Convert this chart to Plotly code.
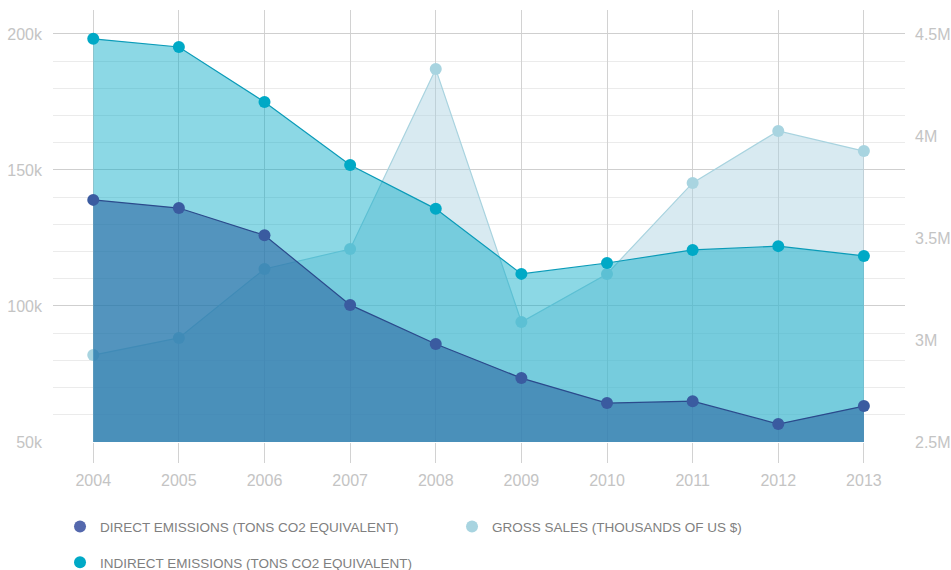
import plotly.graph_objects as go

years = [2004, 2005, 2006, 2007, 2008, 2009, 2010, 2011, 2012, 2013]
direct = [139000, 136000, 126000, 100400, 86000, 73500, 64300, 65000, 56600, 63200]
indirect = [198200, 195200, 175000, 151800, 135700, 111800, 115800, 120600, 122000, 118400]
gross_sales = [2926000, 3010000, 3348000, 3446000, 4328000, 3088000, 3324000, 3770000, 4025000, 3926000]

left_ticks = [50000, 100000, 150000, 200000]
left_labels = ['50k', '100k', '150k', '200k']
right_ticks = [2500000, 3000000, 3500000, 4000000, 4500000]
right_labels = ['2.5M', '3M', '3.5M', '4M', '4.5M']

names = ['DIRECT EMISSIONS (TONS CO2 EQUIVALENT)',
         'GROSS SALES (THOUSANDS OF US $)',
         'INDIRECT EMISSIONS (TONS CO2 EQUIVALENT)']

c_direct = '#5468ad'
c_gross = '#a8d4e0'
c_indirect = '#00a9c6'

fig = go.Figure()

# gross sales sits underneath on the main (right-hand) axis
fig.add_trace(go.Scatter(x=years, y=gross_sales, yaxis='y', mode='lines+markers',
                         fill='tozeroy', fillcolor='rgba(168,208,224,0.45)',
                         line=dict(color='#a8d3df', width=1.2),
                         marker=dict(size=12, color=c_gross), showlegend=False))
fig.add_trace(go.Scatter(x=years, y=indirect, yaxis='y2', mode='lines+markers',
                         fill='tozeroy', fillcolor='rgba(0,169,198,0.45)',
                         line=dict(color='#0a9bb8', width=1.2),
                         marker=dict(size=12, color=c_indirect), showlegend=False))
fig.add_trace(go.Scatter(x=years, y=direct, yaxis='y2', mode='lines+markers',
                         fill='tozeroy', fillcolor='rgba(45,104,164,0.6)',
                         line=dict(color='#2b4a8c', width=1.2),
                         marker=dict(size=12, color='#3a5ba0'), showlegend=False))

# legend-only entries (plain dots), one legend box each
for nm, col, lg in zip(names, [c_direct, c_gross, c_indirect], ['legend', 'legend2', 'legend3']):
    fig.add_trace(go.Scatter(x=[None], y=[None], mode='markers', name=nm, legend=lg,
                             marker=dict(size=12, color=col), showlegend=True))

tick_font = dict(family='Liberation Sans, Arial', size=16, color='#c4c4c4')
legend_font = dict(family='Liberation Sans, Arial', size=13.5, color='#7f7f7f')
leg = dict(orientation='h', xref='container', yref='container', xanchor='left',
           yanchor='top', font=legend_font, itemwidth=30, bgcolor='rgba(0,0,0,0)')

fig.update_layout(
    width=951, height=570,
    margin=dict(l=53, r=46, t=10, b=128),
    plot_bgcolor='white', paper_bgcolor='white',
    xaxis=dict(range=[2003.53, 2013.48], tickvals=years, showgrid=True,
               gridcolor='#d2d2d2', gridwidth=1, zeroline=False, showline=False,
               ticks='outside', ticklen=20, tickcolor='#d2d2d2', tickfont=tick_font,
               ticklabelstandoff=4, automargin=False),
    yaxis=dict(side='right', range=[2500000, 4617600], tickvals=right_ticks,
               ticktext=right_labels, showgrid=False, zeroline=False,
               tickfont=tick_font, ticklabelstandoff=9, automargin=False),
    yaxis2=dict(side='left', overlaying='y', range=[50000, 208800],
                tickvals=left_ticks, ticktext=left_labels, showgrid=True,
                gridcolor='#cfcfcf', zeroline=False, tickfont=tick_font,
                ticklabelstandoff=10, automargin=False,
                minor=dict(dtick=10000, tick0=50000, showgrid=True, gridcolor='#ebebeb')),
    legend=dict(leg, x=0.0631, y=0.1032),
    legend2=dict(leg, x=0.4753, y=0.1032),
    legend3=dict(leg, x=0.0631, y=0.0402),
)

# drop the default body margin so the figure sits at the page corner
fig.write_html("out.html", config={'displayModeBar': False},
               post_script="document.body.style.margin='0';")
